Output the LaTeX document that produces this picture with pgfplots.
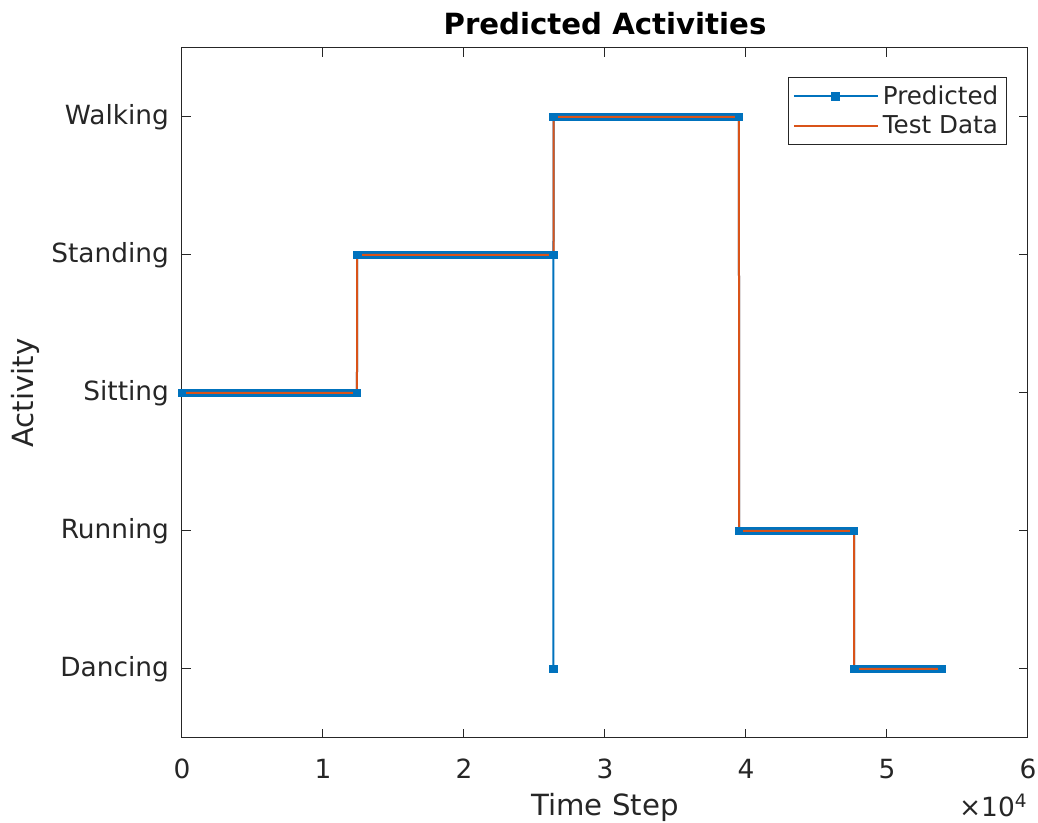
\documentclass[border=0pt]{standalone}
\usepackage{pgfplots}
\pgfplotsset{compat=1.18}
\usepackage{fontspec}
\setmainfont{DejaVu Sans}
\definecolor{mblue}{rgb}{0,0.447,0.741}
\definecolor{morange}{rgb}{0.85,0.325,0.098}
\definecolor{axgray}{rgb}{0.15,0.15,0.15}
\begin{document}
\begin{tikzpicture}
\begin{axis}[
  scale only axis, width=423pt, height=345pt,
  xmin=0, xmax=60000, ymin=0.5, ymax=5.5,
  xtick={0,10000,...,60000},
  scaled x ticks=false,
  xticklabels={0,1,2,3,4,5,6},
  ytick={1,2,3,4,5},
  yticklabels={Dancing,Running,Sitting,Standing,Walking},
  /pgf/number format/assume math mode=true,
  tick align=inside, major tick length=4.5pt,
  axis line style={axgray, line width=0.5pt},
  every tick/.style={axgray, line width=0.5pt},
  tick label style={font=\fontsize{13.2}{15}\selectfont, text=axgray},
  xticklabel style={yshift=-7pt},
  yticklabel style={xshift=-3pt},
  label style={font=\fontsize{14.6}{17}\selectfont, text=axgray},
  xlabel style={yshift=-0.5pt},
  ylabel style={yshift=-1pt},
  title style={font=\fontsize{14.6}{17}\selectfont\bfseries, yshift=-3pt},
  title={Predicted Activities},
  xlabel={Time Step}, ylabel={Activity},
  legend style={at={(rel axis cs:0.975,0.958)}, anchor=north east, draw=axgray, line width=0.5pt,
    font=\fontsize{12.3}{13.5}\selectfont, text=axgray, inner sep=2pt},
  legend cell align=left,
  legend image code/.code={\draw[mark repeat=2,mark phase=2,#1] plot coordinates {(0pt,0pt) (21pt,0pt) (42pt,0pt)};},
  clip=false,
]
% thick band formed by the dense square markers of the predicted series
\addplot[draw=mblue, line width=3.6pt, line cap=rect, forget plot] coordinates {(0,3) (12410,3)};
\addplot[draw=mblue, line width=3.6pt, line cap=rect, forget plot] coordinates {(12420,4) (26330,4)};
\addplot[draw=mblue, line width=3.6pt, line cap=rect, forget plot] coordinates {(26350,5) (39500,5)};
\addplot[draw=mblue, line width=3.6pt, line cap=rect, forget plot] coordinates {(39510,2) (47660,2)};
\addplot[draw=mblue, line width=3.6pt, line cap=rect, forget plot] coordinates {(47670,1) (53900,1)};
\addplot[mblue, line width=1pt, mark=square*, mark size=1.7pt, mark options={solid}] coordinates {
  (0,3) (12410,3) (12420,4) (26330,4) (26340,1) (26350,5) (39500,5) (39510,2) (47660,2) (47670,1) (53900,1)
};
\addlegendentry{Predicted}
\addplot[morange, line width=1pt] coordinates {
  (0,3) (12410,3) (12420,4) (26350,4) (26360,5) (39500,5) (39510,2) (47660,2) (47670,1) (53900,1)
};
\addlegendentry{Test Data}
\node[anchor=north east, inner sep=0pt, font=\fontsize{13.2}{15}\selectfont, text=axgray]
  at (rel axis cs:1,0) [yshift=-28pt] {×10\textsuperscript{4}};
\end{axis}
\pgfresetboundingbox
\useasboundingbox (current axis.south west) ++(-91pt,-42.5pt) rectangle ++(519pt,411.5pt);
\end{tikzpicture}
\end{document}
